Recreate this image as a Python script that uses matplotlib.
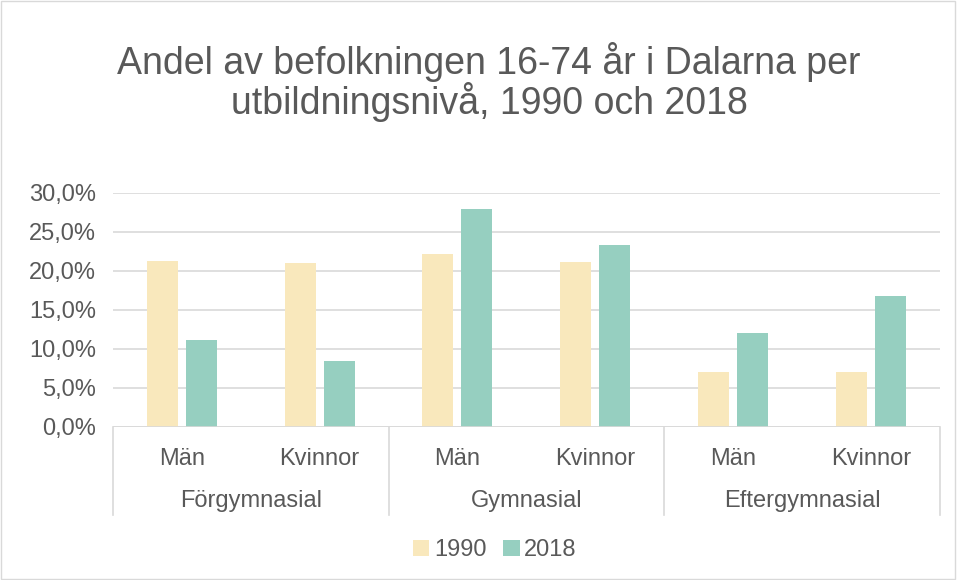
import matplotlib.pyplot as plt
import numpy as np
from matplotlib.patches import Rectangle

plt.rcParams['font.family'] = ['Liberation Sans', 'DejaVu Sans']

grupper = ['Förgymnasial', 'Gymnasial', 'Eftergymnasial']
kon = ['Män', 'Kvinnor', 'Män', 'Kvinnor', 'Män', 'Kvinnor']
andel_1990 = [21.3, 21.0, 22.2, 21.1, 7.0, 7.1]
andel_2018 = [11.1, 8.4, 28.0, 23.3, 12.1, 16.8]
yticks = [0, 5, 10, 15, 20, 25, 30]

textfarg = '#595959'
gridfarg = '#D9D9D9'

fig = plt.figure(figsize=(9.57, 5.8), dpi=100)
fig.patches.append(Rectangle((0.001, 0.002), 0.997, 0.996, transform=fig.transFigure,
                             fill=False, edgecolor=gridfarg, linewidth=1))
ax = fig.add_axes([0.118, 0.2638, 0.864, 0.4035])

x = np.arange(len(kon))
w = 0.225
ax.bar(x - 0.1415, andel_1990, w, color='#F9E8BC', label='1990', zorder=3)
ax.bar(x + 0.1415, andel_2018, w, color='#96CFC0', label='2018', zorder=3)

ax.set_xlim(-0.5, len(kon) - 0.5)
ax.set_ylim(0, 30)
ax.set_yticks(yticks)
ax.set_yticklabels([f'{v:.1f}%'.replace('.', ',') for v in yticks], fontsize=17, color=textfarg)
ax.tick_params(axis='y', length=0, pad=12)
ax.set_xticks([])
for s in ax.spines.values():
    s.set_visible(False)
ax.grid(axis='y', color=gridfarg, linewidth=1.2, zorder=0)
ax.axhline(0, color=gridfarg, linewidth=1.2, zorder=4)

# kategoriaxel med två nivåer
tr = ax.get_xaxis_transform()
for xv in [-0.5, 1.5, 3.5, 5.5]:
    ax.plot([xv, xv], [0, -0.376], transform=tr, color=gridfarg, linewidth=1.2, clip_on=False)
for i, k in enumerate(kon):
    ax.text(i, -0.135, k, transform=tr, ha='center', va='center', fontsize=17, color=textfarg)
for i, g in enumerate(grupper):
    ax.text(2 * i + 0.5, -0.315, g, transform=tr, ha='center', va='center', fontsize=17, color=textfarg)

fig.text(0.511, 0.859, 'Andel av befolkningen 16-74 år i Dalarna per\nutbildningsnivå, 1990 och 2018',
         ha='center', va='center', fontsize=27, color=textfarg, linespacing=1.0)

fig.legend(loc='center', bbox_to_anchor=(0.517, 0.051), ncol=2, frameon=False, fontsize=17,
           handlelength=0.7, handleheight=0.7, handletextpad=0.2, columnspacing=0.7,
           labelcolor=textfarg)

fig.savefig('out.png', dpi=100)
